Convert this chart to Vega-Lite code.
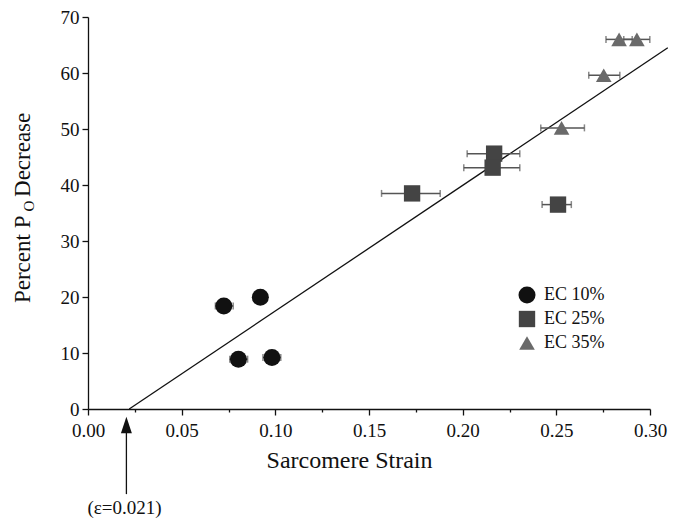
{
  "$schema": "https://vega.github.io/schema/vega-lite/v6.json",
  "width": 562,
  "height": 392,
  "autosize": {"type": "none"},
  "padding": {"left": 88, "top": 17, "right": 29, "bottom": 112},
  "background": "white",
  "config": {
    "view": {"stroke": null},
    "font": "Liberation Serif",
    "axis": {
      "domainColor": "#111", "tickColor": "#111", "labelColor": "#111", "titleColor": "#111",
      "grid": false, "labelFont": "Liberation Serif", "titleFont": "Liberation Serif",
      "labelFontSize": 19, "titleFontSize": 24, "titleFontWeight": "normal",
      "domainWidth": 1.3, "tickWidth": 1.3
    }
  },
  "datasets": {
    "fit": [{"x": 0.022, "y": 0}, {"x": 0.3095, "y": 64.5}],
    "pts": [
      {"group": "EC 10%", "x": 0.0725, "y": 18.4, "xlo": 0.068, "xhi": 0.0775},
      {"group": "EC 10%", "x": 0.092, "y": 19.95, "xlo": 0.0905, "xhi": 0.0935},
      {"group": "EC 10%", "x": 0.0803, "y": 8.9, "xlo": 0.0757, "xhi": 0.0852},
      {"group": "EC 10%", "x": 0.0982, "y": 9.2, "xlo": 0.0934, "xhi": 0.1029},
      {"group": "EC 25%", "x": 0.2168, "y": 45.6, "xlo": 0.2024, "xhi": 0.2305},
      {"group": "EC 25%", "x": 0.216, "y": 43.1, "xlo": 0.2006, "xhi": 0.2305},
      {"group": "EC 25%", "x": 0.2509, "y": 36.5, "xlo": 0.2424, "xhi": 0.258},
      {"group": "EC 25%", "x": 0.173, "y": 38.5, "xlo": 0.1567, "xhi": 0.188},
      {"group": "EC 35%", "x": 0.2835, "y": 66.0, "xlo": 0.2765, "xhi": 0.2905},
      {"group": "EC 35%", "x": 0.293, "y": 66.0, "xlo": 0.286, "xhi": 0.2999},
      {"group": "EC 35%", "x": 0.2753, "y": 59.6, "xlo": 0.2673, "xhi": 0.2839},
      {"group": "EC 35%", "x": 0.2528, "y": 50.2, "xlo": 0.2417, "xhi": 0.265}
    ]
  },
  "layer": [
    {
      "data": {"name": "fit"},
      "mark": {"type": "line", "color": "#111", "strokeWidth": 1.3, "clip": false},
      "encoding": {
        "x": {
          "field": "x", "type": "quantitative",
          "scale": {"domain": [0, 0.3], "nice": false, "zero": false},
          "title": "Sarcomere Strain",
          "axis": {
            "values": [0, 0.025, 0.05, 0.075, 0.1, 0.125, 0.15, 0.175, 0.2, 0.225, 0.25, 0.275, 0.3],
            "labelExpr": "round(datum.value*1000) % 50 === 0 ? format(datum.value, '.2f') : ''",
            "tickSize": {"condition": {"test": "round(datum.value*1000) % 50 === 0", "value": 6}, "value": 3},
            "labelPadding": 6,
            "titlePadding": 8,
            "titleX": 261,
            "labelFlush": false,
            "labelOverlap": false
          }
        },
        "y": {
          "field": "y", "type": "quantitative",
          "scale": {"domain": [0, 70], "nice": false},
          "title": null,
          "axis": {
            "values": [0, 5, 10, 15, 20, 25, 30, 35, 40, 45, 50, 55, 60, 65, 70],
            "labelExpr": "datum.value % 10 === 0 ? datum.value : ''",
            "tickSize": {"condition": {"test": "datum.value % 10 === 0", "value": 6}, "value": 3},
            "labelPadding": 3,
            "labelFlush": false,
            "labelOverlap": false
          }
        }
      }
    },
    {
      "data": {"name": "pts"},
      "mark": {"type": "errorbar", "color": "#555", "thickness": 1.5, "ticks": {"size": 7, "thickness": 1.5, "color": "#555"}},
      "encoding": {
        "x": {"field": "xlo", "type": "quantitative", "title": "Sarcomere Strain"},
        "x2": {"field": "xhi"},
        "y": {"field": "y", "type": "quantitative", "title": null}
      }
    },
    {
      "data": {"name": "pts"},
      "mark": {"type": "point", "filled": true, "opacity": 1},
      "encoding": {
        "x": {"field": "x", "type": "quantitative", "title": "Sarcomere Strain"},
        "y": {"field": "y", "type": "quantitative", "title": null},
        "shape": {
          "field": "group", "type": "nominal",
          "scale": {"domain": ["EC 10%", "EC 25%", "EC 35%"], "range": ["circle", "square", "triangle-up"]},
          "legend": {
            "orient": "none", "legendX": 430, "legendY": 269, "title": null,
            "labelFont": "Liberation Serif", "labelFontSize": 18, "labelColor": "#111",
            "rowPadding": 6, "labelOffset": 8, "padding": 0,
            "symbolStrokeWidth": 0
          }
        },
        "color": {
          "field": "group", "type": "nominal",
          "scale": {"domain": ["EC 10%", "EC 25%", "EC 35%"], "range": ["#111111", "#444444", "#6a6a6a"]}
        },
        "size": {
          "field": "group", "type": "nominal",
          "scale": {"domain": ["EC 10%", "EC 25%", "EC 35%"], "range": [290, 245, 350]}
        }
      }
    },
    {
      "data": {"values": [{"t": "Percent P", "x": -0.0311, "y": 34.55}]},
      "mark": {"type": "text", "angle": 270, "align": "right", "baseline": "alphabetic", "font": "Liberation Serif", "fontSize": 23, "color": "#111"},
      "encoding": {
        "x": {"field": "x", "type": "quantitative", "title": "Sarcomere Strain"},
        "y": {"field": "y", "type": "quantitative", "title": null},
        "text": {"field": "t"}
      }
    },
    {
      "data": {"values": [{"t": "O", "x": -0.0287, "y": 35.27}]},
      "mark": {"type": "text", "angle": 270, "align": "left", "baseline": "alphabetic", "font": "Liberation Serif", "fontSize": 15, "color": "#111"},
      "encoding": {
        "x": {"field": "x", "type": "quantitative", "title": "Sarcomere Strain"},
        "y": {"field": "y", "type": "quantitative", "title": null},
        "text": {"field": "t"}
      }
    },
    {
      "data": {"values": [{"t": "Decrease", "x": -0.0311, "y": 37.86}]},
      "mark": {"type": "text", "angle": 270, "align": "left", "baseline": "alphabetic", "font": "Liberation Serif", "fontSize": 23, "color": "#111"},
      "encoding": {
        "x": {"field": "x", "type": "quantitative", "title": "Sarcomere Strain"},
        "y": {"field": "y", "type": "quantitative", "title": null},
        "text": {"field": "t"}
      }
    },
    {
      "data": {"values": [{"x": 0.0205, "y": -4.29, "y2": -15.2}]},
      "mark": {"type": "rule", "color": "#111", "strokeWidth": 1.3, "clip": false},
      "encoding": {
        "x": {"field": "x", "type": "quantitative", "title": "Sarcomere Strain"},
        "y": {"field": "y", "type": "quantitative", "title": null},
        "y2": {"field": "y2"}
      }
    },
    {
      "data": {"values": [{"x": 0.0205, "y": -2.86}]},
      "mark": {"type": "point", "filled": true, "opacity": 1, "color": "#111", "size": 276, "shape": "M0,-1L0.66,1L-0.66,1Z"},
      "encoding": {
        "x": {"field": "x", "type": "quantitative", "title": "Sarcomere Strain"},
        "y": {"field": "y", "type": "quantitative", "title": null}
      }
    },
    {
      "data": {"values": [{"t": "(ε=0.021)", "x": 0.0195, "y": -17.6}]},
      "mark": {"type": "text", "align": "center", "baseline": "middle", "font": "Liberation Serif", "fontSize": 19, "color": "#111"},
      "encoding": {
        "x": {"field": "x", "type": "quantitative", "title": "Sarcomere Strain"},
        "y": {"field": "y", "type": "quantitative", "title": null},
        "text": {"field": "t"}
      }
    }
  ]
}
